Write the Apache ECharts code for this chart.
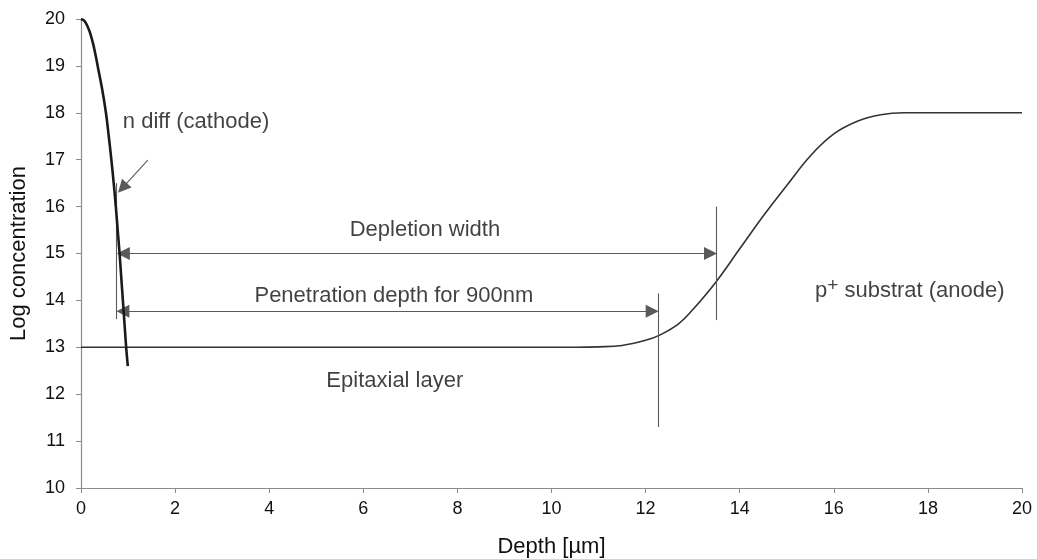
<!DOCTYPE html>
<html>
<head>
<meta charset="UTF-8">
<title>Doping profile</title>
<script src="https://cdn.jsdelivr.net/npm/echarts@6.0.0/dist/echarts.min.js"></script>
<style>
  html, body { margin: 0; padding: 0; background: #fff; }
  #main { width: 1037px; height: 559px; }
</style>
</head>
<body>
<div id="main"></div>
<script>
// n diffusion (cathode) profile
const nDiffDepth = [0, 0.08, 0.177, 0.25, 0.306, 0.354, 0.45, 0.53, 0.59, 0.645, 0.695, 0.74, 0.78, 0.82, 0.855, 0.89, 0.925, 0.96, 0.995];
const nDiffConc  = [20, 19.95, 19.75, 19.5, 19.25, 19.0, 18.5, 18.0, 17.5, 17.0, 16.5, 16.0, 15.5, 15.0, 14.5, 14.0, 13.5, 13.0, 12.6];

// epitaxial layer + p+ substrate profile
const mainDepth = [0, 5, 10.5, 11, 11.5, 12, 12.3, 12.7, 13, 13.5, 14, 14.5, 15, 15.5, 16, 16.5, 17, 17.5, 18, 20];
const mainConc  = [13, 13, 13, 13.01, 13.04, 13.15, 13.26, 13.5, 13.8, 14.4, 15.1, 15.8, 16.45, 17.08, 17.55, 17.82, 17.96, 18, 18, 18];

// vertical marker lines: [depth, yFrom, yTo]
const markers = [
  [0.74, 13.6, 16.5],
  [12.27, 11.3, 14.15],
  [13.5, 13.58, 16.0]
];

// double arrows: [xFrom, xTo, y]
const arrows = [
  [0.9, 13.38, 15.0],
  [0.89, 12.14, 13.77]
];

// pointer from label to n diff curve: [x1, y1, x2, y2]
const pointer = [1.42, 16.99, 0.88, 16.4];

// text labels: [x, y, text, align]
const notes = [
  [0.89, 17.8, 'n diff (cathode)', 'left'],
  [7.31, 15.5, 'Depletion width', 'center'],
  [6.65, 14.09, 'Penetration depth for 900nm', 'center'],
  [6.67, 12.28, 'Epitaxial layer', 'center'],
  [15.6, 14.2, '{n|p}{s|+}{n| substrat (anode)}', 'left']
];

var myChart = echarts.init(document.getElementById('main'));

const font = 'Liberation Sans, Arial, sans-serif';
const axisGray = '#8a8a8a';
const ink = '#111';

var markLines = [];
markers.forEach(function (m) {
  markLines.push([
    { coord: [m[0], m[1]], symbol: 'none' },
    { coord: [m[0], m[2]], symbol: 'none' }
  ]);
});
arrows.forEach(function (a) {
  markLines.push([
    { coord: [a[0], a[2]], symbol: 'triangle' },
    { coord: [a[1], a[2]], symbol: 'triangle' }
  ]);
});
markLines.push([
  { coord: [pointer[0], pointer[1]], symbol: 'none' },
  { coord: [pointer[2], pointer[3]], symbol: 'triangle' }
]);

var option = {
  backgroundColor: '#fff',
  animation: false,
  grid: { left: 81, right: 15, top: 19, bottom: 71, outerBoundsMode: 'none' },
  xAxis: {
    type: 'value',
    min: 0, max: 20, interval: 2,
    name: 'Depth [µm]',
    nameLocation: 'middle',
    nameGap: 48,
    nameTextStyle: { fontFamily: font, fontSize: 22, color: ink },
    axisLine: { lineStyle: { color: axisGray, width: 1.2 } },
    axisTick: { show: true, length: 5, lineStyle: { color: axisGray } },
    axisLabel: { fontFamily: font, fontSize: 18, color: ink, margin: 12 },
    splitLine: { show: false }
  },
  yAxis: {
    type: 'value',
    min: 10, max: 20, interval: 1,
    name: 'Log concentration',
    nameLocation: 'middle',
    nameGap: 51,
    nameTextStyle: { fontFamily: font, fontSize: 22, color: ink },
    axisLine: { show: true, lineStyle: { color: axisGray, width: 1.2 } },
    axisTick: { show: true, length: 5, lineStyle: { color: axisGray } },
    axisLabel: { fontFamily: font, fontSize: 18, color: ink, margin: 16 },
    splitLine: { show: false }
  },
  series: [
    {
      name: 'n diff',
      type: 'line',
      smooth: 0.4,
      showSymbol: false,
      data: nDiffDepth.map(function (d, i) { return [d, nDiffConc[i]]; }),
      lineStyle: { color: '#1a1a1a', width: 2.6 },
      z: 5
    },
    {
      name: 'profile',
      type: 'line',
      smooth: 0.4,
      showSymbol: false,
      data: mainDepth.map(function (d, i) { return [d, mainConc[i]]; }),
      lineStyle: { color: '#333', width: 1.6 },
      markLine: {
        silent: true,
        symbolSize: 13,
        label: { show: false },
        lineStyle: { color: '#5a5a5a', width: 1.1, type: 'solid' },
        itemStyle: { color: '#111' },
        emphasis: { disabled: true },
        data: markLines
      }
    },
    {
      name: 'notes',
      type: 'scatter',
      symbolSize: 0,
      silent: true,
      data: notes.map(function (n) {
        return { value: [n[0], n[1]], name: n[2], label: { align: n[3] } };
      }),
      label: {
        show: true,
        position: 'inside',
        formatter: function (p) { return p.name; },
        fontFamily: font,
        fontSize: 22,
        color: ink,
        rich: {
          n: { fontFamily: font, fontSize: 22, color: ink },
          s: { fontFamily: font, fontSize: 19, color: ink, padding: [0, 0, 10, 0] }
        }
      }
    }
  ]
};

myChart.setOption(option);
</script>
</body>
</html>
